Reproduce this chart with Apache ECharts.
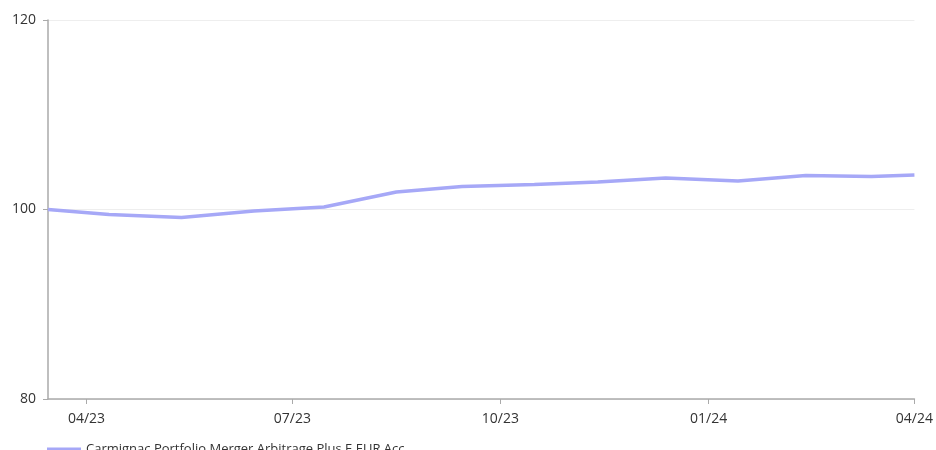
<!DOCTYPE html>
<html>
<head>
<meta charset="utf-8">
<script src="https://cdn.jsdelivr.net/npm/echarts@6/dist/echarts.min.js"></script>
<style>
  html, body { margin: 0; padding: 0; background: #fff; }
  #chart { width: 936px; height: 450px; }
</style>
</head>
<body>
<div id="chart"></div>
<script>
const seriesName = 'Carmignac Portfolio Merger Arbitrage Plus E EUR Acc'
const dates = [
  '2023-03-15', '2023-04-11', '2023-05-13', '2023-06-14', '2023-07-15',
  '2023-08-16', '2023-09-14', '2023-10-16', '2023-11-13', '2023-12-13',
  '2024-01-14', '2024-02-13', '2024-03-13', '2024-04-01'
]
const values = [
  100.0, 99.47, 99.16, 99.84, 100.26,
  101.85, 102.43, 102.64, 102.9, 103.32,
  103.0, 103.59, 103.48, 103.64
]
const xTicks = ['2023-04-01', '2023-07-01', '2023-10-01', '2024-01-01', '2024-04-01']
const yTicks = [80, 100, 120]

const chart = echarts.init(document.getElementById('chart'))
// days since epoch, so the x axis can be a plain value axis
const day = d => new Date(d + 'T00:00:00Z').getTime() / 86400000
const pad = n => (n < 10 ? '0' : '') + n
const tickDays = xTicks.map(day)

const option = {
  animation: false,
  textStyle: { fontFamily: 'Open Sans' },
  grid: { left: 48, right: 18, top: 20, bottom: 51 },
  legend: {
    left: 42,
    top: 438,
    itemWidth: 34,
    itemHeight: 4,
    itemGap: 10,
    icon: 'rect',
    textStyle: { color: '#333', fontSize: 13, fontFamily: 'Open Sans' },
    data: [seriesName]
  },
  xAxis: {
    type: 'value',
    min: day(dates[0]),
    max: day(dates[dates.length - 1]),
    splitLine: { show: false },
    axisLine: { lineStyle: { color: '#aaa', width: 1.5 } },
    axisTick: { show: true, length: 5, lineStyle: { color: '#aaa' }, customValues: tickDays },
    axisLabel: {
      color: '#333',
      fontSize: 14,
      margin: 13,
      showMinLabel: true,
      showMaxLabel: true,
      customValues: tickDays,
      formatter: v => {
        const d = new Date(v * 86400000)
        return pad(d.getUTCMonth() + 1) + '/' + String(d.getUTCFullYear()).slice(2)
      }
    }
  },
  yAxis: {
    type: 'value',
    min: yTicks[0],
    max: yTicks[yTicks.length - 1],
    interval: 20,
    axisLine: { show: true, lineStyle: { color: '#aaa', width: 1.5 } },
    axisTick: { show: true, length: 5, lineStyle: { color: '#aaa' } },
    axisLabel: { color: '#333', fontSize: 14, margin: 12 },
    splitLine: { lineStyle: { color: '#eee' } }
  },
  series: [
    {
      name: seriesName,
      type: 'line',
      data: dates.map((d, i) => [day(d), values[i]]),
      showSymbol: false,
      symbol: 'none',
      lineStyle: { color: '#a6a8f7', width: 3.5 },
      itemStyle: { color: '#a6a8f7' }
    }
  ]
}
chart.setOption(option)
</script>
</body>
</html>
